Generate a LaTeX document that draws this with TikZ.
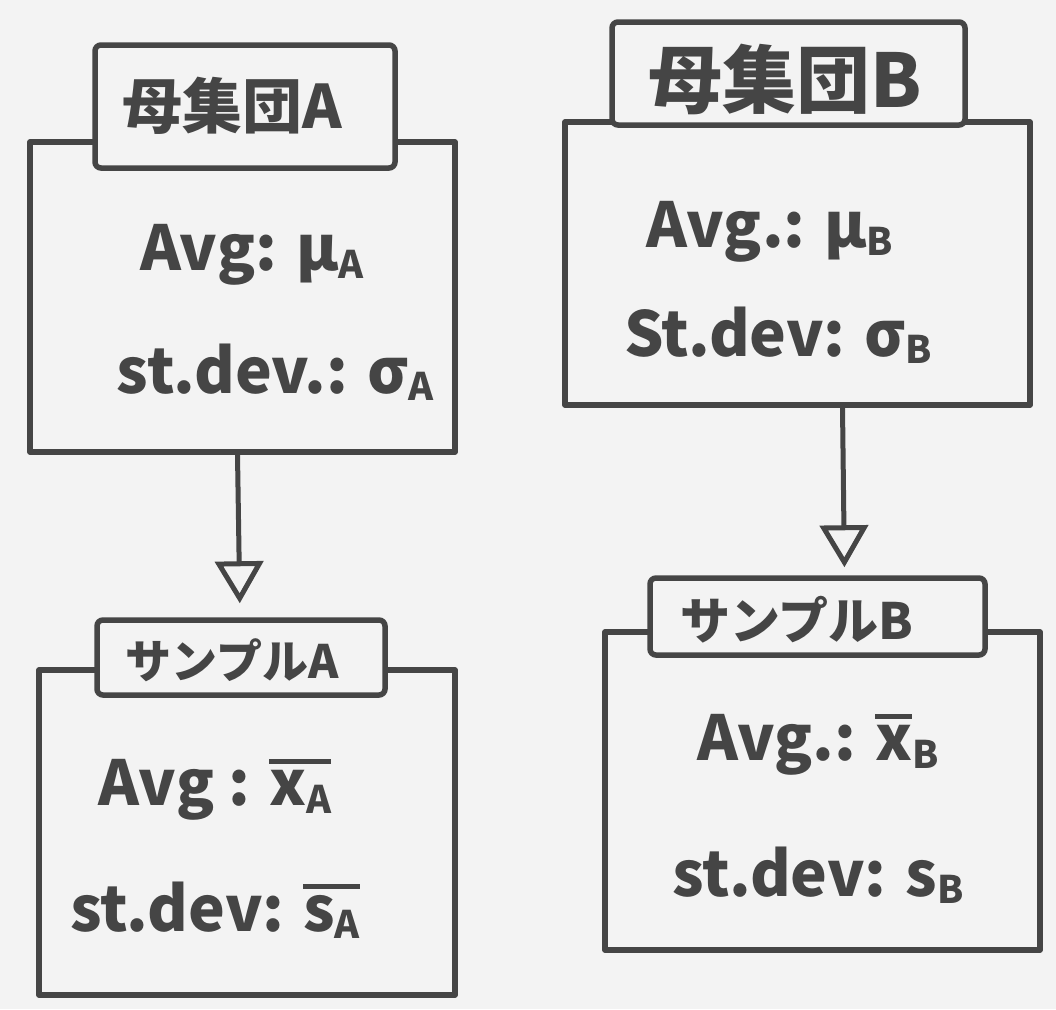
\documentclass[tikz,border=0pt]{standalone}
\usepackage{fontspec}
\setmainfont{Noto Sans CJK JP}
\usetikzlibrary{arrows.meta}
\definecolor{ink}{HTML}{454545}
\definecolor{paper}{HTML}{F3F3F3}
\newcommand\sbs[1]{\raisebox{-0.12em}{\fontsize{38}{40}\selectfont #1}}
\newcommand\obar[1]{\vbox{\hrule height 5pt\kern 6pt\hbox{#1}}}
\tikzset{
  box/.style={draw=ink, line width=5.5pt, fill=paper, rectangle, inner sep=0pt, line join=round},
  tab/.style={draw=ink, line width=5.5pt, fill=paper, rectangle, inner sep=0pt, rounded corners=6pt},
  lbl/.style={text=ink, inner sep=0pt, font=\fontsize{62}{70}\selectfont\bfseries},
  flow/.style={draw=ink, line width=5pt, -{Triangle[open, length=42pt, width=48pt, line width=5pt]}}
}
\begin{document}
\begin{tikzpicture}[x=1pt,y=-1pt]
\fill[paper] (0,0) rectangle (1056,1009);
\useasboundingbox (0,0) rectangle (1056,1009);

% population A
\node[box, minimum width=425pt, minimum height=310pt] (popA) at (242.5,297) {};
\node[tab, minimum width=300pt, minimum height=123pt] (popAtab) at (245,106.5) {};
\node[lbl, font=\fontsize{60}{66}\selectfont\bfseries] (popAt) at (232,106) {母集団A};
\node[lbl] (popA1) at (252,255) {Avg: μ\sbs{A}};
\node[lbl] (popA2) at (275,372) {st.dev.: σ\sbs{A}};

% population B
\node[box, minimum width=465pt, minimum height=283pt] (popB) at (797.5,263.5) {};
\node[tab, minimum width=353pt, minimum height=103pt] (popBtab) at (788.5,73.5) {};
\node[lbl, font=\fontsize{74}{80}\selectfont\bfseries] (popBt) at (785,80) {母集団B};
\node[lbl] (popB1) at (770,232) {Avg.: μ\sbs{B}};
\node[lbl] (popB2) at (778,335) {St.dev: σ\sbs{B}};

% sample A
\node[box, minimum width=416pt, minimum height=325pt] (sampA) at (247,832.5) {};
\node[tab, minimum width=288pt, minimum height=75pt] (sampAtab) at (241,657.5) {};
\node[lbl, font=\fontsize{46}{52}\selectfont\bfseries] (sampAt) at (232,660) {サンプルA};
\node[lbl] (sampA1) at (215,790) {Avg : \obar{x\sbs{A}}};
\node[lbl] (sampA2) at (215,910) {st.dev: \obar{s\sbs{A}}};

% sample B
\node[box, minimum width=435pt, minimum height=318pt] (sampB) at (822.5,791) {};
\node[tab, minimum width=335pt, minimum height=77pt] (sampBtab) at (817.5,616.5) {};
\node[lbl, font=\fontsize{50}{56}\selectfont\bfseries] (sampBt) at (797,620) {サンプルB};
\node[lbl] (sampB1) at (818,745) {Avg.: \obar{x}\sbs{B}};
\node[lbl] (sampB2) at (818,875) {st.dev: s\sbs{B}};

% arrows
\draw[flow, shorten >=14pt] ([xshift=-5pt]popA.south) -- ([xshift=-1pt]sampAtab.north);
\draw[flow, shorten >=8pt] ([xshift=45pt]popB.south) -- ([xshift=27pt]sampBtab.north);
\end{tikzpicture}
\end{document}
